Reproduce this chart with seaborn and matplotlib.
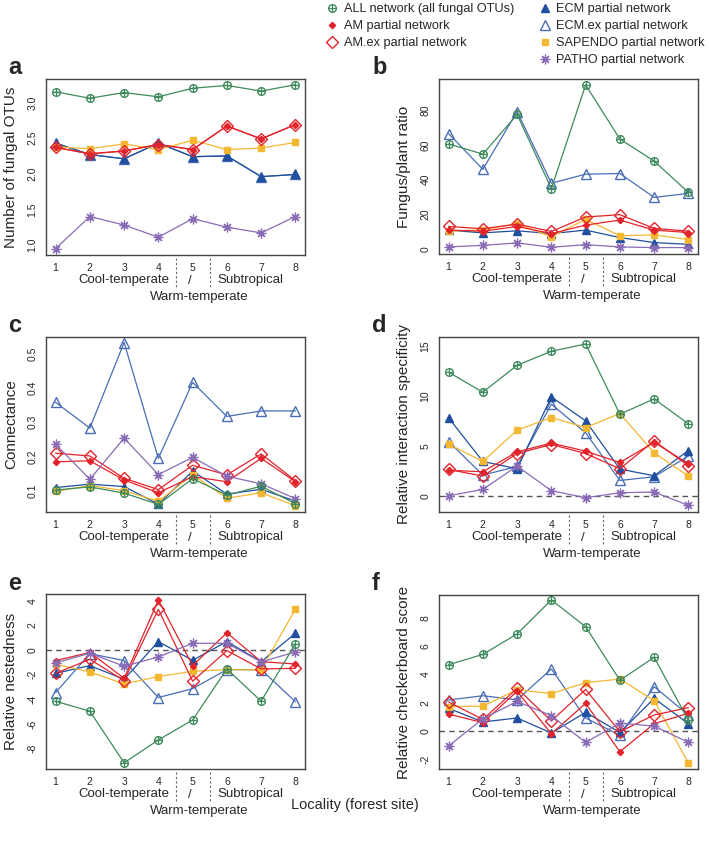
import numpy as np
import pandas as pd
import matplotlib
matplotlib.use("Agg")
import matplotlib.pyplot as plt
import matplotlib.transforms as mtransforms
from matplotlib.lines import Line2D
import seaborn as sns

sites = [1, 2, 3, 4, 5, 6, 7, 8]

legend_labels = {
    "ALL": "ALL network (all fungal OTUs)",
    "AM": "AM partial network",
    "AMex": "AM.ex partial network",
    "ECM": "ECM partial network",
    "ECMex": "ECM.ex partial network",
    "SAPENDO": "SAPENDO partial network",
    "PATHO": "PATHO partial network",
}

# panel a: number of fungal OTUs
otus = {
    "ALL": [3.15, 3.06, 3.14, 3.08, 3.20, 3.24, 3.16, 3.25],
    "AM": [2.37, 2.28, 2.32, 2.41, 2.34, 2.67, 2.49, 2.69],
    "AMex": [2.37, 2.28, 2.32, 2.41, 2.34, 2.67, 2.49, 2.69],
    "ECM": [2.43, 2.27, 2.21, 2.43, 2.24, 2.25, 1.96, 1.99],
    "ECMex": [2.43, 2.27, 2.21, 2.43, 2.24, 2.25, 1.96, 1.99],
    "SAPENDO": [2.38, 2.35, 2.42, 2.34, 2.47, 2.34, 2.36, 2.44],
    "PATHO": [0.95, 1.40, 1.28, 1.11, 1.37, 1.25, 1.17, 1.40],
}
# panel b: fungus/plant ratio
ratio = {
    "ALL": [60.5, 54.6, 77.5, 34.7, 94.6, 63.3, 50.6, 32.5],
    "AM": [10.7, 10.1, 12.8, 8.7, 13.6, 16.5, 10.7, 9.3],
    "AMex": [12.8, 11.5, 14.2, 9.9, 18.3, 19.6, 11.7, 10.1],
    "ECM": [10.7, 9.1, 10.3, 8.7, 10.7, 6.4, 3.5, 2.5],
    "ECMex": [66.5, 45.8, 79.2, 37.8, 43.0, 43.4, 29.6, 31.9],
    "SAPENDO": [10.1, 10.9, 14.4, 6.8, 17.0, 7.4, 8.0, 5.2],
    "PATHO": [1.0, 1.9, 3.3, 0.8, 2.3, 1.0, 0.6, 0.6],
}
# panel c: connectance
connect = {
    "ALL": [0.103, 0.112, 0.094, 0.061, 0.136, 0.088, 0.114, 0.063],
    "AM": [0.185, 0.188, 0.132, 0.095, 0.142, 0.127, 0.195, 0.127],
    "AMex": [0.210, 0.202, 0.137, 0.104, 0.175, 0.147, 0.208, 0.130],
    "ECM": [0.110, 0.120, 0.113, 0.062, 0.158, 0.091, 0.105, 0.071],
    "ECMex": [0.358, 0.283, 0.532, 0.195, 0.416, 0.317, 0.333, 0.333],
    "SAPENDO": [0.099, 0.116, 0.101, 0.070, 0.147, 0.079, 0.095, 0.057],
    "PATHO": [0.236, 0.134, 0.254, 0.148, 0.198, 0.143, 0.121, 0.078],
}
# panel d: relative interaction specificity
specif = {
    "ALL": [12.37, 10.37, 13.07, 14.47, 15.2, 8.17, 9.7, 7.2],
    "AM": [2.55, 2.4, 4.4, 5.27, 4.47, 3.33, 5.35, 3.2],
    "AMex": [2.63, 1.97, 4.23, 5.13, 4.23, 2.7, 5.5, 3.0],
    "ECM": [7.8, 3.43, 2.7, 9.9, 7.5, 2.67, 2.0, 4.53],
    "ECMex": [5.43, 2.07, 2.93, 9.17, 6.3, 1.53, 1.9, 3.97],
    "SAPENDO": [5.17, 3.43, 6.57, 7.83, 6.83, 8.23, 4.3, 1.97],
    "PATHO": [0.0, 0.63, 2.97, 0.5, -0.2, 0.3, 0.37, -0.97],
}
# panel e: relative nestedness
nested = {
    "ALL": [-4.16, -4.97, -9.16, -7.3, -5.68, -1.54, -4.16, 0.51],
    "AM": [-0.86, -0.2, -2.3, 4.05, -1.27, 1.4, -0.95, -1.14],
    "AMex": [-1.9, -0.76, -2.49, 3.3, -2.54, -0.05, -1.54, -1.49],
    "ECM": [-1.9, -1.27, -2.38, 0.68, -0.84, 0.68, -0.95, 1.35],
    "ECMex": [-3.46, -0.3, -0.86, -3.86, -3.14, -1.6, -1.6, -4.2],
    "SAPENDO": [-1.16, -1.78, -2.76, -2.16, -1.73, -1.6, -1.62, 3.32],
    "PATHO": [-1.05, -0.27, -1.32, -0.57, 0.54, 0.54, -0.97, -0.16],
}
# panel f: relative checkerboard score
checker = {
    "ALL": [4.68, 5.41, 6.85, 9.25, 7.36, 3.58, 5.2, 0.75],
    "AM": [1.2, 0.59, 2.8, -0.19, 1.95, -1.46, 0.52, 1.25],
    "AMex": [2.05, 0.82, 3.01, 0.71, 2.94, -0.05, 1.13, 1.65],
    "ECM": [1.6, 0.64, 0.92, -0.14, 1.32, -0.1, 2.3, 0.52],
    "ECMex": [2.19, 2.49, 2.2, 4.38, 0.92, -0.3, 3.13, 1.13],
    "SAPENDO": [1.72, 1.76, 2.92, 2.64, 3.41, 3.67, 2.14, -2.26],
    "PATHO": [-1.06, 0.87, 2.09, 1.08, -0.8, 0.56, 0.35, -0.8],
}

colors = {
    "ALL": "#3f8a5c",
    "AM": "#e3232b",
    "AMex": "#e3232b",
    "ECM": "#1f4f9e",
    "ECMex": "#4a6db5",
    "SAPENDO": "#f4b731",
    "PATHO": "#8a6bb5",
}
marker_style = {
    "ALL": dict(marker="o", markersize=5.5, markerfacecolor="none"),
    "AM": dict(marker="D", markersize=3.2),
    "AMex": dict(marker="D", markersize=6.2, markerfacecolor="none"),
    "ECM": dict(marker="^", markersize=6),
    "ECMex": dict(marker="^", markersize=7.5, markerfacecolor="none"),
    "SAPENDO": dict(marker="s", markersize=5),
    "PATHO": dict(marker=(8, 2, 0), markersize=7, markeredgewidth=0.9),
}
draw_order = ["ECMex", "ECM", "SAPENDO", "AMex", "AM", "PATHO", "ALL"]

sns.set_style("white")
plt.rcParams["font.family"] = ["Liberation Sans", "DejaVu Sans"]
plt.rcParams["axes.linewidth"] = 1.0

fig = plt.figure(figsize=(7.09, 8.46), dpi=100)

W, H = 709.0, 846.0
# (left, top, right, bottom) in pixels
boxes = {
    "a": (46, 79, 305, 255),
    "b": (439, 79, 698, 254),
    "c": (46, 337, 305, 512),
    "d": (439, 337, 698, 512),
    "e": (46, 594, 305, 769),
    "f": (439, 595, 698, 769),
}
panels = [
    ("a", otus, "Number of fungal OTUs", (0.86, 3.33), [1.0, 1.5, 2.0, 2.5, 3.0], False),
    ("b", ratio, "Fungus/plant ratio", (-3.1, 98.0), [0, 20, 40, 60, 80], False),
    ("c", connect, "Connectance", (0.039, 0.548), [0.1, 0.2, 0.3, 0.4, 0.5], False),
    ("d", specif, "Relative interaction specificity", (-1.63, 15.9), [0, 5, 10, 15], True),
    ("e", nested, "Relative nestedness", (-9.66, 4.54), [-8, -6, -4, -2, 0, 2, 4], True),
    ("f", checker, "Relative checkerboard score", (-2.68, 9.6), [-2, 0, 2, 4, 6, 8], True),
]

for letter, data, ylabel, ylim, yticks, zero_line in panels:
    l, t, r, b = boxes[letter]
    ax = fig.add_axes([l / W, 1 - b / H, (r - l) / W, (b - t) / H])
    if zero_line:
        ax.axhline(0, color="#555555", linestyle=(0, (4, 3)), linewidth=1.0, zorder=0)
    for name in draw_order:
        df = pd.DataFrame({"site": sites, "value": data[name]})
        kw = dict(marker_style[name])
        kw.setdefault("markerfacecolor", colors[name])
        kw.setdefault("markeredgewidth", 1.0)
        sns.lineplot(data=df, x="site", y="value", ax=ax, color=colors[name],
                     linewidth=0.9, markeredgecolor=colors[name], **kw)
        if name == "ALL":
            ax.plot(sites, data[name], linestyle="none", marker="+", markersize=5.5,
                    color=colors[name], markeredgewidth=0.9)
    ax.set_xlim(0.72, 8.28)
    ax.set_ylim(*ylim)
    ax.set_xticks(sites)
    ax.set_xticklabels([str(s) for s in sites], fontsize=7.5)
    ax.set_yticks(yticks)
    ax.set_yticklabels([str(v) for v in yticks], fontsize=7.5, rotation=90, va="center")
    ax.tick_params(axis="both", direction="out", length=4, width=0.8, color="#333333", pad=2)
    ax.set_xlabel("")
    ax.set_ylabel(ylabel, fontsize=11)
    ax.yaxis.set_label_coords(-28.0 / (r - l), 0.5)
    for sp in ax.spines.values():
        sp.set_color("#444444")

    ah = float(b - t)
    trans = mtransforms.blended_transform_factory(ax.transData, ax.transAxes)
    ax.text(3, -25 / ah, "Cool-temperate", transform=trans, ha="center", va="center", fontsize=9.5)
    ax.text(6.7, -25 / ah, "Subtropical", transform=trans, ha="center", va="center", fontsize=9.5)
    ax.text(5.2, -42 / ah, "Warm-temperate", transform=trans, ha="center", va="center", fontsize=9.5)
    ax.text(4.93, -26 / ah, "/", transform=trans, ha="center", va="center", fontsize=9.5)
    for xv in (4.5, 5.5):
        ax.add_line(Line2D([xv, xv], [-3 / ah, -33 / ah], transform=trans, color="#666666",
                           linewidth=0.8, linestyle=(0, (2, 2)), clip_on=False))

    lx = 8 if l < 300 else 372
    fig.text(lx / W, 1 - (t - 11) / H, letter, fontsize=17, fontweight="bold",
             ha="left", va="center")

fig.text(355 / W, 1 - 805 / H, "Locality (forest site)", ha="center", va="center", fontsize=10.5)

# legend
handles = []
for name in ["ALL", "AM", "AMex", None, "ECM", "ECMex", "SAPENDO", "PATHO"]:
    if name is None:
        handles.append(Line2D([], [], linestyle="none", marker=None))
        continue
    kw = dict(marker_style[name])
    kw.setdefault("markerfacecolor", colors[name])
    kw.setdefault("markeredgewidth", 1.0)
    h = Line2D([], [], linestyle="none", color=colors[name],
               markeredgecolor=colors[name], **kw)
    if name == "ALL":
        plus = Line2D([], [], linestyle="none", marker="+", markersize=5.5,
                      color=colors[name], markeredgewidth=0.9)
        h = (h, plus)
    handles.append(h)
labels = [legend_labels["ALL"], legend_labels["AM"], legend_labels["AMex"], "",
          legend_labels["ECM"], legend_labels["ECMex"], legend_labels["SAPENDO"],
          legend_labels["PATHO"]]
fig.legend(handles, labels, ncol=2, loc="upper left", bbox_to_anchor=(322 / W, 1 - (-2) / H),
           frameon=False, fontsize=9.2, handlelength=0.8, handletextpad=0.5,
           columnspacing=2.0, labelspacing=0.4, borderaxespad=0)

fig.savefig("out.png", dpi=100)
